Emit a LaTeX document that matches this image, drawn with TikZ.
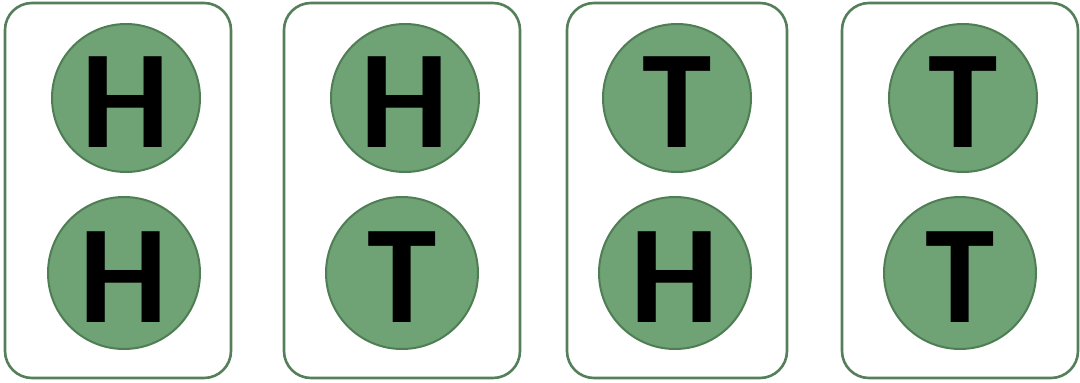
\documentclass[tikz,border=0pt]{standalone}
\usepackage{fontspec}
\setmainfont{Carlito}
\definecolor{coinfill}{HTML}{6FA274}
\definecolor{coinedge}{HTML}{4F7D54}
\definecolor{boxedge}{HTML}{557F5A}
\tikzset{
  cardbox/.style={draw=boxedge, line width=2.6pt, rounded corners=27pt, fill=white},
  coin/.style={circle, draw=coinedge, line width=2pt, fill=coinfill, minimum size=#1, inner sep=0pt},
  letter/.style={font=\fontsize{140}{140}\selectfont\bfseries, text=black, inner sep=0pt, anchor=center},
}
\begin{document}
\begin{tikzpicture}[x=1pt,y=-1pt]
\useasboundingbox (0,0) rectangle (1080,383);
% cards
\draw[cardbox] (5,3) rectangle (231,378);
\draw[cardbox] (284,3) rectangle (520,378);
\draw[cardbox] (567,3) rectangle (787,378);
\draw[cardbox] (842,3) rectangle (1078,378);
% coins
\node[coin=148pt] (c1a) at (126,98) {};
\node[coin=152pt] (c1b) at (124,273) {};
\node[coin=148pt] (c2a) at (405,98) {};
\node[coin=152pt] (c2b) at (402,273) {};
\node[coin=148pt] (c3a) at (677,98) {};
\node[coin=152pt] (c3b) at (675,273) {};
\node[coin=148pt] (c4a) at (963,98) {};
\node[coin=152pt] (c4b) at (960,273) {};
% letters
\node[letter] (l1a) at (126,102) {H};
\node[letter] (l1b) at (124,277) {H};
\node[letter] (l2a) at (405,102) {H};
\node[letter] (l2b) at (402,277) {T};
\node[letter] (l3a) at (677,102) {T};
\node[letter] (l3b) at (675,277) {H};
\node[letter] (l4a) at (963,102) {T};
\node[letter] (l4b) at (960,277) {T};
\end{tikzpicture}
\end{document}
